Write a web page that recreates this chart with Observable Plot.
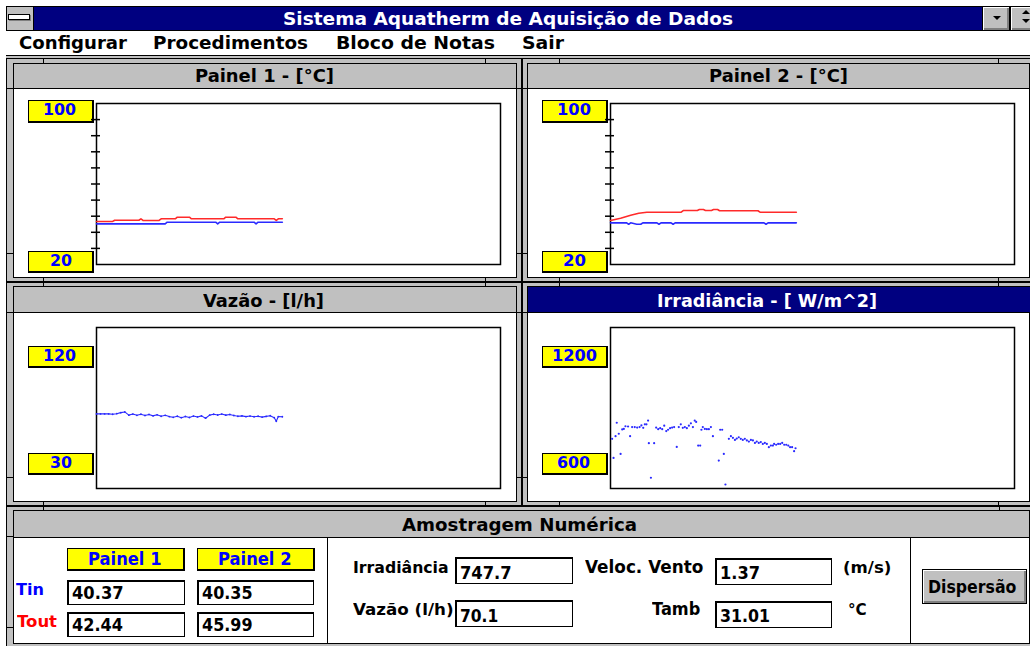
<!DOCTYPE html>
<html><head><meta charset="utf-8">
<script src="https://cdn.jsdelivr.net/npm/d3@7"></script>
<script src="https://cdn.jsdelivr.net/npm/@observablehq/plot@0.6"></script>
<style>
html,body{margin:0;padding:0;background:#fff;overflow:hidden}
#app{position:relative;width:1030px;height:646px;overflow:hidden;font-family:"DejaVu Sans",sans-serif;font-weight:bold}
.a{position:absolute;box-sizing:border-box}
.t{position:absolute;white-space:nowrap;line-height:1;transform-origin:0 50%}
svg.p{position:absolute}
</style></head><body><div id="app"></div>
<script>
// ---------- texts ----------
const windowTitle = "Sistema Aquatherm de Aquisição de Dados";
const menuItems = ["Configurar", "Procedimentos", "Bloco de Notas", "Sair"];
const panelTitles = ["Painel 1 - [°C]", "Painel 2 - [°C]", "Vazão - [l/h]", "Irradiância - [ W/m^2]"];
const summaryTitle = "Amostragem Numérica";
// ---------- scales ----------
const sampleDomain = [0, 200];
const tempDomain = [20, 100];
const tempTickLabels = ["100", "20"];
const tempTicks = [28, 36, 44, 52, 60, 68, 76, 84, 92];
const flowDomain = [30, 120];
const flowTickLabels = ["120", "30"];
const irrDomain = [600, 1200];
const irrTickLabels = ["1200", "600"];
// ---------- Painel 1 ----------
const p1ToutX = [0, 8, 9, 21, 22, 23, 31, 32, 39, 40, 46, 47, 63, 64, 69, 70, 88, 89, 90, 92];
const p1ToutY = [41.4, 41.4, 42.0, 42.0, 42.7, 41.9, 41.9, 42.7, 42.7, 43.5, 43.5, 42.7, 42.7, 43.5, 43.5, 42.7, 42.7, 41.9, 42.7, 42.7];
const p1TinX = [0, 34, 35, 59, 60, 61, 78, 79, 80, 92];
const p1TinY = [40.2, 40.2, 41.0, 41.0, 40.2, 41.0, 41.0, 40.2, 41.0, 41.0];
// ---------- Painel 2 ----------
const p2ToutX = [0, 5, 10, 14, 18, 35, 36, 43, 44, 46, 47, 50, 51, 53, 54, 73, 74, 92];
const p2ToutY = [41.9, 43.0, 44.5, 45.5, 46.0, 46.0, 46.8, 46.8, 47.3, 47.3, 46.8, 46.8, 47.3, 47.3, 46.7, 46.7, 46.0, 46.0];
const p2TinX = [0, 8, 9, 10, 13, 15, 16, 23, 24, 25, 30, 31, 32, 76, 77, 78, 92];
const p2TinY = [40.7, 40.7, 40.0, 40.7, 40.0, 40.0, 40.7, 40.7, 40.0, 40.7, 40.7, 40.0, 40.7, 40.7, 40.0, 40.7, 40.7];
// ---------- Vazão ----------
const flowX = [0,2,4,6,8,10,12,14,16,18,20,22,24,26,28,30,32,34,36,38,40,42,44,46,48,50,52,54,56,58,60,62,64,66,68,70,72,74,76,78,80,82,84,86,88,89,90,92];
const flowY = [71.7,71.7,71.7,71.7,71.5,71.8,72.4,72.8,71.0,71.6,70.9,71.5,70.8,71.4,70.6,71.2,70.4,70.9,70.2,69.8,70.4,69.6,70.3,69.7,70.5,70.0,70.6,69.3,71.0,71.5,71.1,71.6,71.0,71.4,70.8,70.4,70.6,70.2,70.5,70.1,70.4,69.9,70.3,70.7,69.6,67.6,70.2,70.1];
// ---------- Irradiância ----------
const irrX = [0.8,1.5,2.5,3.1,4.1,5.0,5.8,6.6,7.4,8.7,9.7,10.7,12.0,13.2,14.4,15.3,16.2,17.0,17.8,18.6,19.0,20.0,21.6,22.6,23.6,24.6,25.6,26.6,27.6,28.5,29.5,30.5,31.5,32.8,33.8,34.8,35.8,36.8,37.8,38.8,39.8,40.8,41.7,42.4,43.4,44.4,45.0,45.7,46.7,47.7,48.7,49.7,50.7,53.6,54.3,55.3,56.1,56.9,58.6,59.6,60.6,61.6,62.5,63.5,64.5,65.5,66.5,67.5,68.5,69.5,70.5,71.5,72.4,73.4,74.4,75.4,76.4,77.4,78.4,79.4,80.4,81.0,82.0,83.0,84.0,85.0,86.0,87.0,88.0,88.9,89.9,90.9,91.6];
const irrY = [785,714,795,845,804,729,820,822,832,831,795,829,829,827,829,835,826,839,839,853,769,640,769,827,821,825,821,834,814,819,825,827,829,755,829,839,826,829,825,834,843,829,853,848,760,760,819,829,822,821,821,829,795,704,819,819,729,615,785,795,789,781,786,791,785,781,785,779,775,781,779,770,775,770,773,766,770,766,754,760,760,766,763,766,766,770,763,763,760,754,754,739,750];
// ---------- Amostragem Numérica ----------
const summaryPanels = ["Painel 1", "Painel 2"];
const rowLabels = ["Tin", "Tout"];
const tinValues = ["40.37", "40.35"];
const toutValues = ["42.44", "45.99"];
const fieldLabels = ["Irradiância", "Vazão (l/h)", "Veloc. Vento", "Tamb"];
const fieldValues = ["747.7", "70.1", "1.37", "31.01"];
const fieldUnits = ["(m/s)", "°C"];
const buttonLabel = "Dispersão";

// ---------- helpers ----------
const app = document.getElementById("app");
const GRAY = "#c0c0c0", NAVY = "#000080", YELLOW = "#ffff00", BLUE = "#0000ff", RED = "#ff0000";
function div(x, y, w, h, css) {
  const d = document.createElement("div");
  d.className = "a";
  Object.assign(d.style, {left: x + "px", top: y + "px", width: w + "px", height: h + "px"}, css || {});
  app.appendChild(d);
  return d;
}
function txt(s, x, cy, fs, tw, color) {
  const e = document.createElement("span");
  e.className = "t";
  e.textContent = s;
  Object.assign(e.style, {left: x + "px", top: (cy - fs * 0.4815) + "px", fontSize: fs + "px", color: color || "#000"});
  app.appendChild(e);
  if (tw) {
    const w = e.getBoundingClientRect().width;
    if (w > 0) e.style.transform = `scaleX(${tw / w})`;
  }
  return e;
}
function line(x, y, w, h) { return div(x, y, w, h, {background: "#000"}); }
function pts(xs, ys) { return xs.map((x, i) => ({x, y: ys[i]})); }

// ---------- window chrome ----------
div(6, 6, 28, 25, {background: GRAY, border: "1px solid #000"});
div(8, 14, 22, 6, {background: "#fff", border: "1px solid #000", boxShadow: "1px 1px 0 #808080"});
div(34, 6, 948, 25, {background: NAVY, borderTop: "1px solid #000", borderBottom: "1px solid #000"});
txt(windowTitle, 283, 18.3, 18, 450, "#fff");
div(982, 6, 28, 25, {background: GRAY, border: "1px solid #000", boxShadow: "inset 1px 1px 0 #fff, inset -2px -2px 0 #808080"});
div(993, 16, 0, 0, {borderLeft: "4px solid transparent", borderRight: "4px solid transparent", borderTop: "4px solid #000"});
div(1010, 6, 24, 25, {background: GRAY, border: "1px solid #000", boxShadow: "inset 1px 1px 0 #fff, inset -2px -2px 0 #808080"});
div(1022, 10, 0, 0, {borderLeft: "4px solid transparent", borderRight: "4px solid transparent", borderBottom: "4px solid #000"});
div(1022, 19, 0, 0, {borderLeft: "4px solid transparent", borderRight: "4px solid transparent", borderTop: "4px solid #000"});
div(6, 31, 1024, 25, {background: "#fff", borderBottom: "1px solid #000"});
const menuX = [19, 153, 336, 522], menuW = [108, 155, 159, 42];
menuItems.forEach((m, i) => txt(m, menuX[i], 42.5, 18, menuW[i]));

// ---------- frames ----------
div(6, 56, 1024, 590, {background: GRAY});
function frame(ox, oy, ow, oh) {
  div(ox, oy, ow, oh, {border: "1px solid #000", background: GRAY});
  [ox + 37, ox + ow - 37].forEach(x => { line(x, oy, 1, 6); line(x, oy + oh - 6, 1, 6); });
  [oy + 30, oy + oh - 29].forEach(y => { line(ox, y, 7, 1); line(ox + ow - 7, y, 7, 1); });
}
frame(6, 58, 516, 224);
frame(522, 58, 513, 224);
frame(6, 282, 516, 224);
frame(522, 282, 513, 224);
frame(6, 506, 1030, 150);

function inner(x, y, w, h, hh, title, tx, tcy, tw, navy) {
  div(x, y, w, h, {border: "1px solid #000", background: "#fff"});
  div(x, y, w, hh, {border: "1px solid #000", background: navy ? NAVY : GRAY, borderRight: navy ? "none" : "1px solid #000"});
  txt(title, tx, tcy, 18, tw, navy ? "#fff" : "#000");
}
inner(13, 63, 504, 215, 26, panelTitles[0], 195, 75.7, 139);
inner(527, 63, 503, 215, 26, panelTitles[1], 709, 75.7, 139);
inner(13, 286, 504, 216, 27, panelTitles[2], 203, 300.5, 121);
inner(527, 286, 503, 216, 27, panelTitles[3], 657, 300.5, 220, true);
inner(13, 510, 1017, 134, 28, summaryTitle, 402, 525, 235);

// ---------- yellow scale labels ----------
function yl(x, y, h, s, tx, tw, cy) {
  div(x, y, 66, h, {background: YELLOW, border: "1px solid #000", borderRightWidth: "2px", borderBottomWidth: "2px"});
  txt(s, tx, cy, 16, tw, BLUE);
}
yl(28, 100, 23, tempTickLabels[0], 43.3, 33, 110);
yl(28, 251, 22, tempTickLabels[1], 50, 22, 261);
yl(542, 100, 23, tempTickLabels[0], 556.7, 34, 110);
yl(542, 251, 22, tempTickLabels[1], 563.3, 23, 261);
yl(28, 346, 22, flowTickLabels[0], 43.3, 33, 356);
yl(28, 453, 22, flowTickLabels[1], 50, 22, 462.5);
yl(542, 346, 22, irrTickLabels[0], 551.7, 45, 356);
yl(542, 453, 22, irrTickLabels[1], 556.7, 33, 462.5);

// ---------- charts ----------
function chart(left, top, w, h, ml, yDomain, marks) {
  const svg = Plot.plot({
    width: w, height: h, marginLeft: ml, marginRight: 1, marginTop: 0, marginBottom: 1,
    x: {domain: sampleDomain, axis: null},
    y: {domain: yDomain, axis: null},
    style: {background: "transparent", overflow: "visible"},
    marks: [Plot.frame({stroke: "#000", strokeWidth: 1.5}), ...marks]
  });
  svg.classList.add("p");
  svg.style.left = left + "px";
  svg.style.top = top + "px";
  app.appendChild(svg);
}
const tickAxis = () => Plot.axisY(tempTicks, {anchor: "left", tickSize: 9, dx: 4, fill: "none", tickFormat: () => "", label: null, stroke: "#000", strokeWidth: 1.5});
const redLine = {x: "x", y: "y", stroke: "#ff2a2a", strokeWidth: 1.6};
const blueLine = {x: "x", y: "y", stroke: "#2a2aff", strokeWidth: 1.6};
chart(90, 103, 411, 162, 6, tempDomain, [
  tickAxis(),
  Plot.line(pts(p1ToutX, p1ToutY), redLine),
  Plot.line(pts(p1TinX, p1TinY), blueLine)
]);
chart(604, 103, 411, 162, 6, tempDomain, [
  tickAxis(),
  Plot.line(pts(p2ToutX, p2ToutY), redLine),
  Plot.line(pts(p2TinX, p2TinY), blueLine)
]);
chart(96, 327, 405, 162, 0, flowDomain, [
  Plot.line(pts(flowX, flowY), {x: "x", y: "y", stroke: "#2a2aff", strokeWidth: 1.1}),
  Plot.dot(pts(flowX, flowY), {x: "x", y: "y", r: 0.9, fill: "#2a2aff"})
]);
chart(610, 327, 405, 162, 0, irrDomain, [
  Plot.dot(pts(irrX, irrY), {x: "x", y: "y", r: 1.1, fill: "#2a2aff"})
]);

// ---------- Amostragem Numérica ----------
line(327, 537, 1, 107);
line(910, 537, 1, 107);
const colX = [67, 197], nameTX = [88.3, 218.3];
summaryPanels.forEach((p, i) => {
  div(colX[i], 548, 118, 23, {background: YELLOW, border: "1px solid #000", borderRightWidth: "2px", borderBottomWidth: "2px"});
  txt(p, nameTX[i], 558.3, 18, 73.5, BLUE);
});
txt(rowLabels[0], 16, 590, 16, 28, BLUE);
txt(rowLabels[1], 17, 622, 16, 40, RED);
function field(x, y, w, h, s, tx, cy, tw) {
  div(x, y, w, h, {background: "#fff", border: "1px solid #000", borderWidth: "2px 1px 1px 2px"});
  txt(s, tx, cy, 17, tw);
}
field(67, 580, 118, 25, tinValues[0], 71.7, 593, 51.6);
field(197, 580, 117, 25, tinValues[1], 201.7, 593, 50.6);
field(67, 612, 118, 25, toutValues[0], 71.7, 625.5, 51);
field(197, 612, 117, 25, toutValues[1], 201.7, 625.5, 50.6);
txt(fieldLabels[0], 352.7, 568, 16, 95.6);
txt(fieldLabels[1], 352.7, 609.5, 16, 100.6);
field(455, 557, 118, 27, fieldValues[0], 460, 573, 51.7);
field(455, 600, 118, 27, fieldValues[1], 460, 616, 38.3);
txt(fieldLabels[2], 585, 567, 17, 118.3);
txt(fieldLabels[3], 651.7, 609, 17, 48.3);
field(715, 558, 117, 27, fieldValues[2], 720, 573, 40);
field(715, 601, 117, 27, fieldValues[3], 720, 616, 50);
txt(fieldUnits[0], 843.3, 567.5, 16, 48.4);
txt(fieldUnits[1], 848, 610, 16, 18.7);
div(922, 569, 105, 35, {background: GRAY, border: "1px solid #000", boxShadow: "inset 1px 1px 0 #fff, inset -2px -2px 0 #808080"});
txt(buttonLabel, 928.3, 587, 17, 88.4);
</script></body></html>
